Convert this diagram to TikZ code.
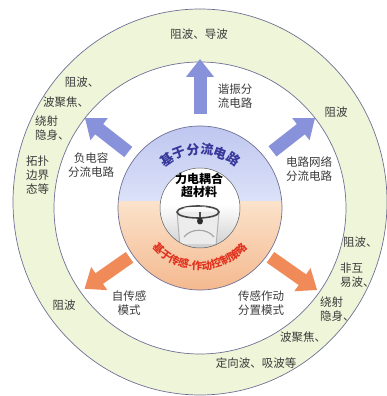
\documentclass[tikz,border=0pt]{standalone}
\usepackage{fontspec}
\setmainfont{Noto Sans CJK SC}
\usetikzlibrary{arrows.meta,calc,decorations.text}

\definecolor{ringgreen}{RGB}{238,245,216}
\definecolor{rimline}{RGB}{112,112,150}
\definecolor{arrblue}{RGB}{136,146,218}
\definecolor{arrorange}{RGB}{240,138,88}
\definecolor{titleblue}{RGB}{55,55,155}
\definecolor{titlered}{RGB}{225,50,30}
\definecolor{labgray}{RGB}{60,60,60}

\tikzset{
  lab/.style={font=\fontsize{11.5}{14}\selectfont, text=labgray, inner sep=0pt, align=center},
  labl/.style={lab, align=left, anchor=west},
  fatarrow/.style={line width=13pt, -{Triangle[width=27pt,length=18pt]}},
}

\begin{document}
\begin{tikzpicture}[x=1pt,y=1pt]
\useasboundingbox (0,0) rectangle (387,396);
\coordinate (c) at (200,188);
% outer green ring and white ring
\fill[ringgreen] (200,194) ellipse [x radius=187, y radius=193];
\draw[rimline, line width=0.7pt] (200,194) ellipse [x radius=187, y radius=193];
\fill[white] (c) circle (146);
\draw[rimline, line width=0.7pt] (c) circle (146);
% middle disk: blue upper part, orange lower part
\begin{scope}
  \clip (c) circle (82);
  \shade[top color={rgb,255:red,190;green,198;blue,240}, bottom color={rgb,255:red,220;green,226;blue,248}] (110,194) rectangle (290,272);
  \shade[top color={rgb,255:red,251;green,226;blue,202}, bottom color={rgb,255:red,244;green,184;blue,142}] (110,104) rectangle (290,194);
\end{scope}
\draw[rimline, line width=0.7pt] (c) circle (82);
% inner disk with the sample
\fill[white] (c) circle (40);
\begin{scope}
  \clip (c) circle (40);
  \shade[top color=white, bottom color=gray!40] (158,146) rectangle (242,192);
  \fill[gray!15] (177,184) -- (180,152) -- (216,152) -- (219,184) -- cycle;
  \draw[gray!60, line width=1pt] (177,184) -- (180,150);
  \draw[gray!60, line width=1pt] (219,184) -- (216,150);
  \draw[gray!55!black, line width=1.6pt] (198,184) ellipse [x radius=21, y radius=6];
  \draw[white, line width=0.8pt] (184,188) -- (206,189);
  \draw[gray!60!black, line width=1.2pt] (200,184) -- (200,177);
  \fill[gray!35!black] (200,175) ellipse [x radius=3, y radius=3.5];
  \draw[gray!70, line width=1.2pt] (184,159) .. controls (191,168) and (207,168) .. (214,159);
\end{scope}
\draw[gray!70!black, line width=0.5pt] (c) circle (40);
\node[font=\bfseries\fontsize{12}{13}\selectfont, align=center, inner sep=0pt] (meta) at (199,210.5) {力电耦合\\超材料};
% curved titles
\path[decorate, decoration={text along path, text align=center, text color=titleblue,
  text={|\bfseries\fontsize{13}{13}\selectfont|基于分流电路}}]
  ($(c)+(165:54)$) arc [start angle=165, end angle=15, radius=54];
\path[decorate, decoration={text along path, text align=center, text color=titlered,
  text={|\bfseries\fontsize{10.5}{11}\selectfont|基于传感-作动控制策略}}]
  ($(c)+(195:62)$) arc [start angle=195, end angle=345, radius=62];
% arrows out of the disk
\foreach \ang/\rin/\rout/\col in {90/94/149/arrblue, 142/91/146/arrblue, 38/92/146/arrblue,
                                   215/86/141/arrorange, 325/86/143/arrorange} {
  \coordinate (from\ang) at ($(c)+(\ang:\rin)$);
  \coordinate (to\ang) at ($(c)+(\ang:\rout)$);
  \draw[fatarrow, \col] (from\ang) -- (to\ang);
}
% circuit and mode labels
\node[lab, align=left] (resn) at (235,300) {谐振分\\流电路};
\node[lab] (negc) at (91,230.5) {负电容\\分流电路};
\node[lab] (netw) at (309,226.5) {电路网络\\分流电路};
\node[lab] (selfs) at (129,93) {自传感\\模式};
\node[lab] (sepm) at (261,93) {传感作动\\分置模式};
% wave effects in the green ring
\node[lab] (topwave) at (199,362) {阻波、导波};
\node[lab] (ulA) at (82,314) {阻波、};
\node[lab] (ulB) at (66,294) {波聚焦、};
\node[labl] (ulC) at (35,267.5) {绕射\\隐身、};
\node[lab] (ulD) at (37.5,221) {拓扑\\边界\\态等};
\node[lab] (urA) at (336,284) {阻波};
\node[lab] (llA) at (64,91) {阻波};
\node[labl] (lrA) at (343,154) {阻波、};
\node[labl] (lrB) at (340,121) {非互\\易波、};
\node[labl] (lrC) at (320,86.5) {绕射\\隐身、};
\node[lab] (lrD) at (303,59) {波聚焦、};
\node[lab] (lrE) at (256,33) {定向波、吸波等};
\end{tikzpicture}
\end{document}
